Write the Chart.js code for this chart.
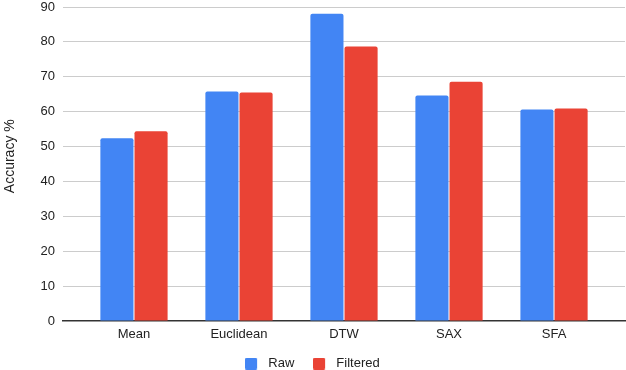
<!DOCTYPE html>
<html>
<head>
<meta charset="utf-8">
<script src="https://cdn.jsdelivr.net/npm/chart.js@4/dist/chart.umd.min.js"></script>
<style>
  html, body { margin: 0; padding: 0; background: #ffffff; }
  #wrap { width: 626px; height: 370px; position: relative; }
</style>
</head>
<body>
<div id="wrap"><canvas id="c" width="626" height="370"></canvas></div>
<script>
const categories = ['Mean', 'Euclidean', 'DTW', 'SAX', 'SFA'];
const rawValues = [52.4, 65.8, 88.1, 64.6, 60.6];
const filteredValues = [54.4, 65.5, 78.7, 68.6, 60.9];
const yTicks = [0, 10, 20, 30, 40, 50, 60, 70, 80, 90];
const seriesNames = ['Raw', 'Filtered'];
const seriesColors = ['#4285F4', '#EA4335'];
const yTitle = 'Accuracy %';

const FONT = "'Liberation Sans', Arial, sans-serif";
const toPoints = (vals) => vals.map((v, i) => ({ x: i, y: v }));

function makeSwatch(color) {
  const c = document.createElement('canvas');
  c.width = 17; c.height = 12;
  const g = c.getContext('2d');
  g.fillStyle = color;
  g.beginPath();
  if (g.roundRect) g.roundRect(0, 0, 12, 12, 1.5); else g.rect(0, 0, 12, 12);
  g.fill();
  return c;
}
const swatches = seriesColors.map(makeSwatch);

const barStyle = {
  borderRadius: { topLeft: 2, topRight: 2, bottomLeft: 0, bottomRight: 0 },
  borderSkipped: false,
  categoryPercentage: 0.65,
  barPercentage: 0.97
};

new Chart(document.getElementById('c'), {
  type: 'bar',
  data: {
    datasets: [
      Object.assign({ label: seriesNames[0], data: toPoints(rawValues), backgroundColor: seriesColors[0] }, barStyle),
      Object.assign({ label: seriesNames[1], data: toPoints(filteredValues), backgroundColor: seriesColors[1] }, barStyle)
    ]
  },
  options: {
    responsive: false,
    animation: false,
    devicePixelRatio: 1,
    layout: { padding: { top: 7, right: 1, left: 0, bottom: -10 } },
    plugins: {
      legend: {
        position: 'bottom',
        labels: {
          font: { family: FONT, size: 13 },
          color: '#222',
          boxWidth: 12,
          boxHeight: 12,
          padding: 19,
          usePointStyle: true,
          pointStyleWidth: 16.5,
          generateLabels: (chart) => {
            const items = Chart.defaults.plugins.legend.labels.generateLabels(chart);
            items.forEach((it, i) => { it.pointStyle = swatches[i]; });
            return items;
          }
        }
      },
      tooltip: { enabled: false }
    },
    scales: {
      x: {
        type: 'linear',
        offset: false,
        min: -0.676,
        max: 4.676,
        afterBuildTicks: (scale) => {
          scale.ticks = categories.map((c, i) => ({ value: i }));
        },
        afterFit: (scale) => {
          scale.height = 17;
          scale.paddingLeft = 0; scale.paddingRight = 0;
        },
        ticks: {
          callback: (v) => categories[v] !== undefined ? categories[v] : '',
          font: { family: FONT, size: 13 },
          color: '#222',
          padding: 6,
          maxRotation: 0,
          autoSkip: false
        },
        grid: { display: false, drawTicks: false },
        border: { display: true, color: '#333', width: 1.5 }
      },
      y: {
        min: 0,
        max: 90,
        afterBuildTicks: (scale) => {
          scale.ticks = yTicks.map(v => ({ value: v }));
        },
        afterFit: (scale) => {
          scale.width = 63;
          scale.paddingTop = 0; scale.paddingBottom = 0;
        },
        ticks: {
          font: { family: FONT, size: 13 },
          color: '#222',
          padding: 8
        },
        grid: {
          color: (ctx) => ctx.tick && ctx.tick.value === 0 ? 'rgba(0,0,0,0)' : '#cccccc',
          lineWidth: 1,
          drawTicks: false
        },
        border: { display: false },
        title: {
          display: true,
          text: '    ' + yTitle,
          font: { family: FONT, size: 14 },
          color: '#222',
          padding: { top: 2, bottom: 0 }
        }
      }
    }
  }
});
</script>
</body>
</html>
